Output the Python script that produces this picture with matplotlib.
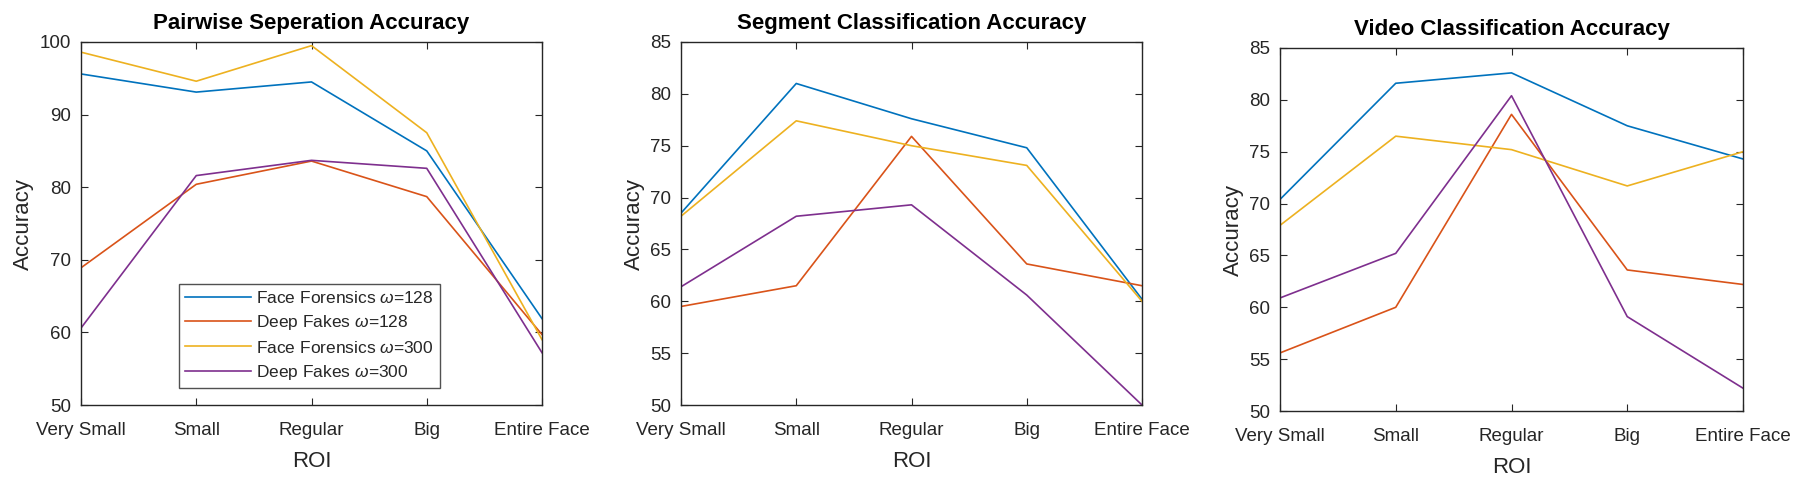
import matplotlib
matplotlib.use("Agg")
import matplotlib.pyplot as plt

plt.rcParams['font.family'] = ['Liberation Sans', 'DejaVu Sans']
plt.rcParams['mathtext.fontset'] = 'custom'
plt.rcParams['mathtext.it'] = 'Liberation Sans:italic'

categories = ["Very Small", "Small", "Regular", "Big", "Entire Face"]
series_names = [r"Face Forensics $\omega$=128", r"Deep Fakes $\omega$=128",
                r"Face Forensics $\omega$=300", r"Deep Fakes $\omega$=300"]
colors = ["#0072BD", "#D95319", "#EDB120", "#7E2F8E"]

pairwise_ff128 = [95.6, 93.1, 94.5, 85.0, 61.9]
pairwise_df128 = [68.9, 80.4, 83.6, 78.7, 59.7]
pairwise_ff300 = [98.6, 94.6, 99.5, 87.5, 59.0]
pairwise_df300 = [60.6, 81.6, 83.7, 82.6, 57.2]

segment_ff128 = [68.5, 81.0, 77.6, 74.8, 60.2]
segment_df128 = [59.5, 61.5, 75.9, 63.6, 61.5]
segment_ff300 = [68.2, 77.4, 75.0, 73.1, 60.0]
segment_df300 = [61.4, 68.2, 69.3, 60.6, 50.0]

video_ff128 = [70.4, 81.6, 82.6, 77.5, 74.3]
video_df128 = [55.6, 60.0, 78.6, 63.6, 62.2]
video_ff300 = [67.9, 76.5, 75.2, 71.7, 75.0]
video_df300 = [60.9, 65.2, 80.4, 59.1, 52.2]

titles = ["Pairwise Seperation Accuracy", "Segment Classification Accuracy",
          "Video Classification Accuracy"]
panels = [
    [pairwise_ff128, pairwise_df128, pairwise_ff300, pairwise_df300],
    [segment_ff128, segment_df128, segment_ff300, segment_df300],
    [video_ff128, video_df128, video_ff300, video_df300],
]
ylims = [(50, 100), (50, 85), (50, 85)]
yticks = [list(range(50, 101, 10)), list(range(50, 86, 5)), list(range(50, 86, 5))]

W, H = 1806, 483
fig = plt.figure(figsize=(W / 100, H / 100), dpi=100)
rects = [
    (81, 42, 542, 405),
    (681, 42, 1142, 405),
    (1280, 48, 1743, 411),
]
dark = "#262626"
x = list(range(len(categories)))
for i, (l, t, r, b) in enumerate(rects):
    ax = fig.add_axes([l / W, 1 - b / H, (r - l) / W, (b - t) / H])
    for s, name, c in zip(panels[i], series_names, colors):
        ax.plot(x, s, color=c, lw=1.2, label=name)
    ax.set_xlim(0, len(categories) - 1)
    ax.set_ylim(*ylims[i])
    ax.set_xticks(x)
    ax.set_xticklabels(categories)
    ax.set_yticks(yticks[i])
    ax.tick_params(direction='in', top=True, right=True, labelsize=13.5,
                   colors=dark, length=5, width=0.8)
    ax.tick_params(axis='x', pad=12)
    ax.tick_params(axis='y', pad=7)
    for sp in ax.spines.values():
        sp.set_color(dark)
        sp.set_linewidth(1.0)
    ax.set_title(titles[i], fontsize=16, fontweight='bold', color='black', pad=9)
    ax.set_xlabel("ROI", fontsize=16, color=dark, labelpad=9)
    ax.set_ylabel("Accuracy", fontsize=16, color=dark, labelpad=4)
    if i == 0:
        leg = ax.legend(loc='lower left', bbox_to_anchor=(0.213, 0.047),
                        fontsize=12.5, frameon=True, fancybox=False,
                        edgecolor=dark, handlelength=3.8, labelspacing=0.42,
                        borderpad=0.35, handletextpad=0.3, borderaxespad=0)
        leg.get_frame().set_linewidth(1.0)
        for txt in leg.get_texts():
            txt.set_color(dark)

fig.savefig("out.png", dpi=100)
